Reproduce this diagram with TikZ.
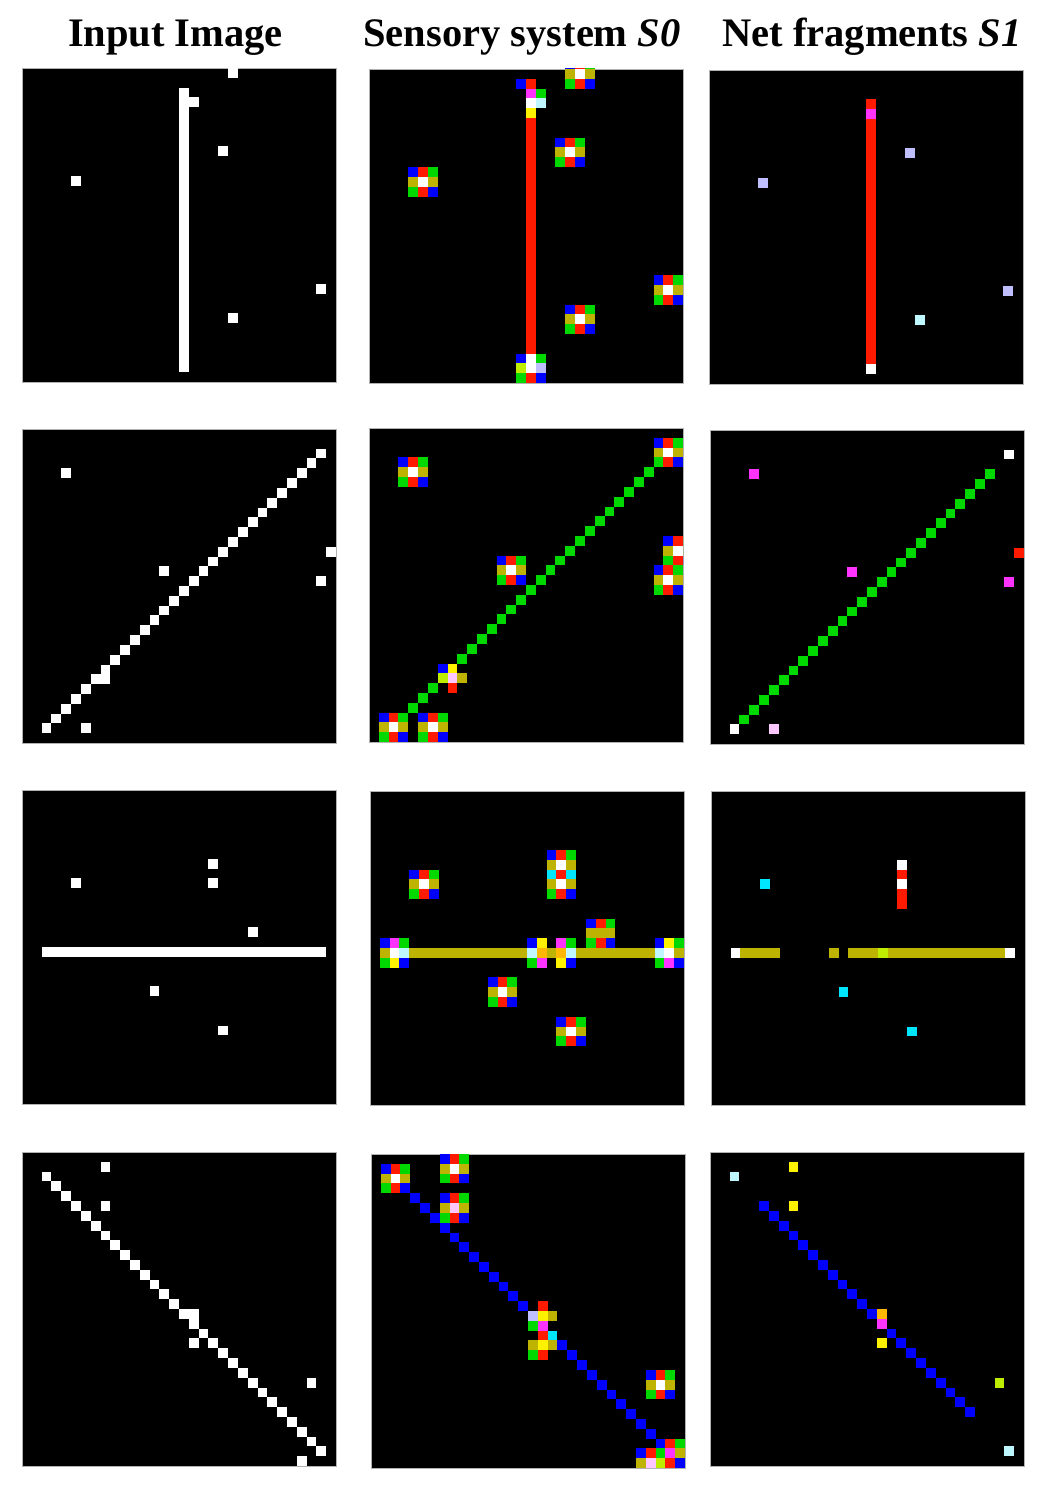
\documentclass[tikz,border=0pt]{standalone}
\usepackage{fontspec}
\setmainfont{Liberation Serif}
\usepackage{xcolor}
\definecolor{cblue}{RGB}{0,0,255}
\definecolor{cred}{RGB}{255,26,0}
\definecolor{cgreen}{RGB}{0,217,0}
\definecolor{colive}{RGB}{189,179,0}
\definecolor{cmagenta}{RGB}{255,51,255}
\definecolor{ccyan}{RGB}{0,230,255}
\definecolor{clightcyan}{RGB}{191,247,255}
\definecolor{clavender}{RGB}{191,191,255}
\definecolor{cyellow}{RGB}{255,242,0}
\definecolor{clime}{RGB}{191,237,0}
\definecolor{cpink}{RGB}{255,199,255}
\definecolor{corange}{RGB}{255,183,0}

% one grid cell, and a list of cells of one colour
\newcommand{\pxl}[3]{\fill[#1] (#2,#3) rectangle ++(1,1);}
\newcommand{\pxls}[2]{\foreach \cc/\rr in {#2} {\pxl{#1}{\cc}{\rr}}}
% 3x3 response of the sensory system round one cell
\newcommand{\detector}[2]{%
  \begin{scope}[shift={(#1,#2)}]
    \pxl{cblue}{-1}{-1}\pxl{cred}{0}{-1}\pxl{cgreen}{1}{-1}
    \pxl{colive}{-1}{0}\pxl{white}{0}{0}\pxl{colive}{1}{0}
    \pxl{cgreen}{-1}{1}\pxl{cred}{0}{1}\pxl{cblue}{1}{1}
  \end{scope}}

\begin{document}
\begin{tikzpicture}[
  x=1pt, y=-1pt,
  header/.style={font=\fontsize{40.5}{48}\selectfont\bfseries, anchor=base, inner sep=0pt},
  grid/.style={x=9.8125pt, y=-9.8125pt},
  panel/.style={fill=black, draw=gray!60, line width=0.6pt},
]
\useasboundingbox (0,0) rectangle (1048,1498);

% Header
\node[header] (hdrinput) at (175.5,47) {Input Image};
\node[header] (hdrsensory) at (522,47) {Sensory system \textit{S0}};
\node[header] (hdrnet) at (872,47) {Net fragments \textit{S1}};

% Row 1: vertical bar
\begin{scope}[shift={(22,68)}, grid]
  \fill[panel] (0,0) rectangle (32,32);
  \clip (0,0) rectangle (32,32);
  \fill[white] (16,2) rectangle (17,31);
  \pxls{white}{21/0,17/3,20/8,5/11,30/22,21/25}
\end{scope}
\begin{scope}[shift={(369,69)}, grid]
  \fill[panel] (0,0) rectangle (32,32);
  \clip (0,0) rectangle (32,32);
  \foreach \cc/\rr in {21/0,20/8,5/11,30/22,21/25} {\detector{\cc}{\rr}}
  \fill[cred] (16,5) rectangle (17,29);
  \pxls{cblue}{15/1,15/29,17/31}
  \pxls{cred}{16/1,16/31}
  \pxls{cgreen}{17/2,17/29,15/31}
  \pxls{white}{16/3,16/29,16/30}
  \pxl{cmagenta}{16}{2}
  \pxl{clightcyan}{17}{3}
  \pxl{cyellow}{16}{4}
  \pxl{clime}{15}{30}
  \pxl{clavender}{17}{30}
\end{scope}
\begin{scope}[shift={(709,70)}, grid]
  \fill[panel] (0,0) rectangle (32,32);
  \clip (0,0) rectangle (32,32);
  \fill[cred] (16,3) rectangle (17,30);
  \pxl{cmagenta}{16}{4}
  \pxl{white}{16}{30}
  \pxls{clavender}{5/11,20/8,30/22}
  \pxl{clightcyan}{21}{25}
\end{scope}

% Row 2: rising diagonal
\begin{scope}[shift={(22,429)}, grid]
  \fill[panel] (0,0) rectangle (32,32);
  \clip (0,0) rectangle (32,32);
  \foreach \k in {2,...,30} {\pxl{white}{\k}{32-\k}}
  \pxls{white}{8/25,4/4,14/14,31/12,30/15,6/30}
\end{scope}
\begin{scope}[shift={(369,428)}, grid]
  \fill[panel] (0,0) rectangle (32,32);
  \clip (0,0) rectangle (32,32);
  \foreach \k in {4,...,28} {\pxl{cgreen}{\k}{32-\k}}
  \foreach \cc/\rr in {4/4,30/2,14/14,31/12,30/15,2/30,6/30} {\detector{\cc}{\rr}}
  \pxl{cblue}{7}{24}
  \pxl{cyellow}{8}{24}
  \pxl{clime}{7}{25}
  \pxl{cpink}{8}{25}
  \pxl{colive}{9}{25}
  \pxl{cred}{8}{26}
\end{scope}
\begin{scope}[shift={(710,430)}, grid]
  \fill[panel] (0,0) rectangle (32,32);
  \clip (0,0) rectangle (32,32);
  \foreach \k in {3,...,28} {\pxl{cgreen}{\k}{32-\k}}
  \pxls{white}{30/2,2/30}
  \pxls{cmagenta}{4/4,14/14,30/15}
  \pxl{cred}{31}{12}
  \pxl{cpink}{6}{30}
\end{scope}

% Row 3: horizontal bar
\begin{scope}[shift={(22,790)}, grid]
  \fill[panel] (0,0) rectangle (32,32);
  \clip (0,0) rectangle (32,32);
  \fill[white] (2,16) rectangle (31,17);
  \pxls{white}{19/7,19/9,5/9,23/14,13/20,20/24}
\end{scope}
\begin{scope}[shift={(370,791)}, grid]
  \fill[panel] (0,0) rectangle (32,32);
  \clip (0,0) rectangle (32,32);
  \foreach \cc/\rr in {5/9,13/20,20/24,19/7,19/9,23/14} {\detector{\cc}{\rr}}
  \pxls{ccyan}{18/8,20/8}
  \pxl{colive}{23}{14}
  \fill[colive] (4,16) rectangle (16,17);
  \pxl{colive}{18}{16}
  \fill[colive] (21,16) rectangle (29,17);
  % junctions on the bar
  \pxls{cblue}{1/15,16/15,29/15,3/17,20/17,31/17}
  \pxls{cmagenta}{2/15,19/15,17/17,30/17}
  \pxls{cgreen}{3/15,20/15,31/15,1/17,16/17,29/17}
  \pxls{colive}{1/16,31/16}
  \pxls{white}{2/16,30/16}
  \pxls{clightcyan}{3/16,16/16,20/16,29/16}
  \pxls{cyellow}{17/15,30/15,2/17,19/17}
  \pxls{corange}{17/16,19/16}
\end{scope}
\begin{scope}[shift={(711,791)}, grid]
  \fill[panel] (0,0) rectangle (32,32);
  \clip (0,0) rectangle (32,32);
  \pxls{ccyan}{5/9,13/20,20/24}
  \pxls{white}{19/7,19/9,2/16,30/16}
  \pxls{cred}{19/8,19/10,19/11}
  \fill[colive] (3,16) rectangle (7,17);
  \pxl{colive}{12}{16}
  \fill[colive] (14,16) rectangle (17,17);
  \pxl{clime}{17}{16}
  \fill[colive] (18,16) rectangle (30,17);
\end{scope}

% Row 4: falling diagonal
\begin{scope}[shift={(22,1152)}, grid]
  \fill[panel] (0,0) rectangle (32,32);
  \clip (0,0) rectangle (32,32);
  \foreach \k in {2,...,30} {\pxl{white}{\k}{\k}}
  \pxls{white}{8/1,8/5,17/16,17/19,29/23,28/31}
\end{scope}
\begin{scope}[shift={(371,1154)}, grid]
  \fill[panel] (0,0) rectangle (32,32);
  \clip (0,0) rectangle (32,32);
  \foreach \k in {4,...,15} {\pxl{cblue}{\k}{\k}}
  \foreach \k in {19,...,29} {\pxl{cblue}{\k}{\k}}
  \foreach \cc/\rr in {2/2,8/1,8/5,29/23} {\detector{\cc}{\rr}}
  \pxl{cpink}{8}{5}
  \pxls{cred}{17/15,17/18,17/20}
  \pxl{clavender}{16}{16}
  \pxls{cyellow}{17/16,17/19}
  \pxls{colive}{18/16,16/19,18/19}
  \pxls{cgreen}{16/17,16/20}
  \pxl{cmagenta}{17}{17}
  \pxl{ccyan}{18}{18}
  % corner
  \pxls{cred}{30/29,28/30,30/31}
  \pxls{cgreen}{31/29,29/30}
  \pxls{cblue}{27/30,31/31}
  \pxl{cmagenta}{30}{30}
  \pxls{colive}{31/30,27/31}
  \pxl{cpink}{28}{31}
  \pxl{clime}{29}{31}
\end{scope}
\begin{scope}[shift={(710,1152)}, grid]
  \fill[panel] (0,0) rectangle (32,32);
  \clip (0,0) rectangle (32,32);
  \foreach \k in {5,...,16} {\pxl{cblue}{\k}{\k}}
  \foreach \k in {18,...,26} {\pxl{cblue}{\k}{\k}}
  \pxl{corange}{17}{16}
  \pxl{cmagenta}{17}{17}
  \pxls{clightcyan}{2/2,30/30}
  \pxls{cyellow}{8/1,8/5,17/19}
  \pxl{clime}{29}{23}
\end{scope}
\end{tikzpicture}
\end{document}
